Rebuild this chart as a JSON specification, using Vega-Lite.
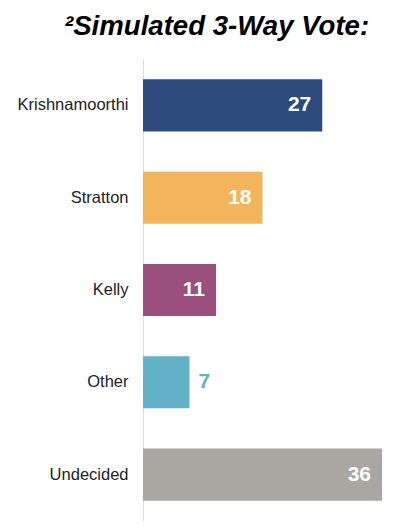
{
  "$schema": "https://vega.github.io/schema/vega-lite/v6.json",
  "autosize": "none",
  "width": 239,
  "height": 462,
  "padding": {"left": 143, "top": 59, "right": 13, "bottom": 11},
  "background": "white",
  "title": {
    "text": "²Simulated 3-Way Vote:",
    "font": "Liberation Sans",
    "fontSize": 27.6,
    "fontWeight": "bold",
    "fontStyle": "italic",
    "color": "#000000",
    "anchor": "start",
    "frame": "group",
    "dx": -79,
    "offset": 18
  },
  "data": {
    "values": [
      {"candidate": "Krishnamoorthi", "pct": 27},
      {"candidate": "Stratton", "pct": 18},
      {"candidate": "Kelly", "pct": 11},
      {"candidate": "Other", "pct": 7},
      {"candidate": "Undecided", "pct": 36}
    ]
  },
  "encoding": {
    "y": {
      "field": "candidate",
      "type": "nominal",
      "sort": null,
      "scale": {"paddingInner": 0.436, "paddingOuter": 0.22},
      "axis": {
        "title": null,
        "ticks": false,
        "domainColor": "#dddddd",
        "domainWidth": 1,
        "labelFont": "Liberation Sans",
        "labelFontSize": 16.5,
        "labelColor": "#222222",
        "labelPadding": 15,
        "grid": false
      }
    },
    "x": {
      "field": "pct",
      "type": "quantitative",
      "scale": {"domain": [0, 36], "nice": false},
      "axis": null
    }
  },
  "layer": [
    {
      "mark": {"type": "bar", "cornerRadius": 0},
      "encoding": {
        "color": {
          "field": "candidate",
          "type": "nominal",
          "scale": {
            "domain": ["Krishnamoorthi", "Stratton", "Kelly", "Other", "Undecided"],
            "range": ["#2c4a7c", "#f2b55c", "#9a4f7d", "#62b1c6", "#aaa7a3"]
          },
          "legend": null
        }
      }
    },
    {
      "transform": [{"filter": "datum.pct >= 10"}],
      "mark": {"type": "text", "align": "right", "baseline": "middle", "dx": -11, "font": "Liberation Sans", "fontSize": 21, "fontWeight": "bold", "color": "white"},
      "encoding": {"text": {"field": "pct", "type": "quantitative"}}
    },
    {
      "transform": [{"filter": "datum.pct < 10"}],
      "mark": {"type": "text", "align": "left", "baseline": "middle", "dx": 9, "font": "Liberation Sans", "fontSize": 21, "fontWeight": "bold", "color": "#62b1c6"},
      "encoding": {"text": {"field": "pct", "type": "quantitative"}}
    }
  ],
  "config": {"view": {"stroke": null}}
}
